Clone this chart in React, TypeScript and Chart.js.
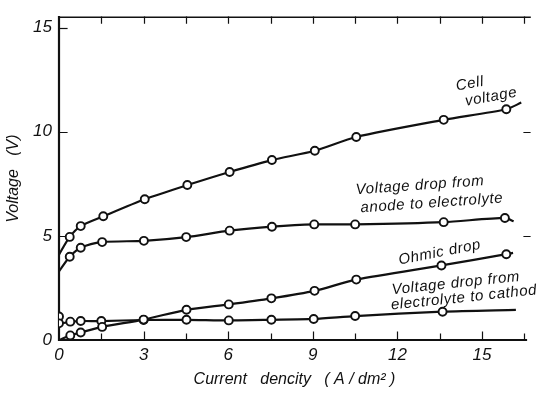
import React, { useEffect, useRef } from "react";
import { Chart, registerables } from "chart.js";

Chart.register(...registerables);

// Measured points (current density A/dm², voltage V)
const cellX = [0.38, 0.77, 1.57, 3.04, 4.55, 6.05, 7.55, 9.07, 10.54, 13.64, 15.86];
const cellY = [4.95, 5.47, 5.94, 6.76, 7.44, 8.07, 8.64, 9.09, 9.75, 10.57, 11.08];
const cellStart = { x: 0, y: 4.1 };
const cellEnd = { x: 16.39, y: 11.4 };

const anodeX = [0.38, 0.77, 1.53, 3.01, 4.51, 6.05, 7.55, 9.05, 10.5, 13.64, 15.81];
const anodeY = [4.0, 4.43, 4.7, 4.76, 4.94, 5.25, 5.44, 5.55, 5.55, 5.66, 5.86];
const anodeStart = { x: 0, y: 3.3 };
const anodeEnd = { x: 16.12, y: 5.7 };

const ohmicX = [0.4, 0.77, 1.53, 3.0, 4.52, 6.02, 7.53, 9.06, 10.54, 13.56, 15.86];
const ohmicY = [0.22, 0.36, 0.63, 0.98, 1.45, 1.71, 2.0, 2.36, 2.9, 3.58, 4.12];
const ohmicStart = { x: 0, y: 0 };
const ohmicEnd = { x: 16.1, y: 4.18 };

const cathodeX = [0, 0, 0.4, 0.77, 1.5, 3.0, 4.52, 6.02, 7.53, 9.03, 10.5, 13.6];
const cathodeY = [1.13, 0.8, 0.88, 0.91, 0.91, 0.96, 0.97, 0.94, 0.97, 1.01, 1.15, 1.36];
const cathodeEnd = { x: 16.2, y: 1.45 };

const yTickValues = [0, 5, 10, 15];
const xLabelStep = 3;

const curveLabels = [
  { text: "Cell", x: 14.57, y: 12.3, rot: -10 },
  { text: "voltage", x: 15.32, y: 11.67, rot: -10 },
  { text: "Voltage drop from", x: 12.8, y: 7.42, rot: -4 },
  { text: "anode to electrolyte", x: 13.22, y: 6.57, rot: -4 },
  { text: "Ohmic drop", x: 13.5, y: 4.2, rot: -11 },
  { text: "Voltage drop from", x: 14.07, y: 2.72, rot: -6 },
  { text: "electrolyte to cathod", x: 14.36, y: 2.03, rot: -6 },
];

const FONT = "'Liberation Sans', Arial, sans-serif";

function series(
  xs: number[],
  ys: number[],
  start: { x: number; y: number } | null,
  end: { x: number; y: number } | null
) {
  const pts = xs.map((x, i) => ({ x, y: ys[i] }));
  const data = [...(start ? [start] : []), ...pts, ...(end ? [end] : [])];
  const first = start ? 1 : 0;
  const last = first + pts.length - 1;
  return {
    data,
    borderColor: "#111",
    borderWidth: 2.2,
    backgroundColor: "#fff",
    pointBorderColor: "#111",
    pointBackgroundColor: "#fff",
    pointBorderWidth: 1.9,
    pointRadius: (c: any) => (c.dataIndex >= first && c.dataIndex <= last ? 4 : 0),
    tension: 0.25,
    showLine: true,
    fill: false,
  };
}

const framePlugin = {
  id: "frame",
  beforeDatasetsDraw(chart: any) {
    const { ctx, chartArea: a, scales } = chart;
    const xs = scales.x;
    const ys = scales.y;
    ctx.save();
    ctx.strokeStyle = "#111";
    ctx.lineCap = "square";
    ctx.lineWidth = 2.2;
    ctx.beginPath();
    ctx.moveTo(a.left, a.top);
    ctx.lineTo(a.left, a.bottom);
    ctx.lineTo(a.right - 4, a.bottom);
    ctx.stroke();
    ctx.lineWidth = 1.6;
    ctx.beginPath();
    ctx.moveTo(a.left, a.top);
    ctx.lineTo(a.right, a.top);
    ctx.stroke();
    ctx.lineWidth = 1.2;
    for (let v = 1.5; v <= xs.max; v += 1.5) {
      const px = Math.round(xs.getPixelForValue(v)) + 0.5;
      const len = Math.abs(v % 3) < 1e-6 ? 8 : 6;
      ctx.beginPath();
      ctx.moveTo(px, a.bottom);
      ctx.lineTo(px, a.bottom - len);
      ctx.moveTo(px, a.top);
      ctx.lineTo(px, a.top + 6);
      ctx.stroke();
    }
    for (const v of yTickValues) {
      if (v === 0) continue;
      const py = Math.round(ys.getPixelForValue(v)) + 0.5;
      ctx.beginPath();
      ctx.moveTo(a.left, py);
      ctx.lineTo(a.left + 8, py);
      if (v < 15) {
        ctx.moveTo(a.right, py);
        ctx.lineTo(a.right - 6, py);
      }
      ctx.stroke();
    }
    ctx.restore();
  },
  afterDatasetsDraw(chart: any) {
    const { ctx, scales } = chart;
    ctx.save();
    ctx.fillStyle = "#111";
    ctx.font = `italic 15px ${FONT}`;
    (ctx as any).letterSpacing = "0.6px";
    ctx.textAlign = "center";
    ctx.textBaseline = "middle";
    for (const l of curveLabels) {
      const px = scales.x.getPixelForValue(l.x);
      const py = scales.y.getPixelForValue(l.y);
      ctx.save();
      ctx.translate(px, py);
      ctx.rotate((l.rot * Math.PI) / 180);
      ctx.fillText(l.text, 0, 0);
      ctx.restore();
    }
    ctx.restore();
  },
};

export default function App() {
  const ref = useRef<HTMLCanvasElement | null>(null);
  useEffect(() => {
    if (!ref.current) return;
    const chart = new Chart(ref.current, {
      type: "scatter",
      data: {
        datasets: [
          series(cellX, cellY, cellStart, cellEnd),
          series(anodeX, anodeY, anodeStart, anodeEnd),
          series(ohmicX, ohmicY, ohmicStart, ohmicEnd),
          series(cathodeX, cathodeY, null, cathodeEnd),
        ] as any,
      },
      options: {
        responsive: false,
        animation: false,
        layout: { padding: { top: 12, right: 7, left: 0, bottom: 0 } },
        plugins: { legend: { display: false }, tooltip: { enabled: false } },
        scales: {
          x: {
            type: "linear",
            min: 0,
            max: 16.7,
            grid: { display: false, drawTicks: false },
            border: { display: false },
            afterFit: (s: any) => {
              s.height = 53;
            },
            ticks: {
              stepSize: 1.5,
              includeBounds: false,
              autoSkip: false,
              maxRotation: 0,
              padding: 5,
              color: "#111",
              font: { family: FONT, size: 17, style: "italic" },
              callback: (v: any) => (Math.abs(Number(v) % xLabelStep) < 1e-6 ? String(v) : ""),
            },
            title: {
              display: true,
              text: "Current   dencity   ( A / dm² )",
              color: "#111",
              font: { family: FONT, size: 16, style: "italic" },
              padding: { top: 0, bottom: 4 },
            },
          },
          y: {
            type: "linear",
            min: 0,
            max: 15.5,
            grid: { display: false, drawTicks: false },
            border: { display: false },
            afterFit: (s: any) => {
              s.width = 59;
            },
            afterBuildTicks: (s: any) => {
              s.ticks = yTickValues.map((v) => ({ value: v }));
            },
            ticks: {
              padding: 7,
              color: "#111",
              font: { family: FONT, size: 17, style: "italic" },
            },
            title: {
              display: true,
              text: "Voltage   (V)",
              color: "#111",
              font: { family: FONT, size: 16, style: "italic" },
              padding: { top: 4, bottom: 0 },
            },
          },
        },
      },
      plugins: [framePlugin],
    });
    return () => chart.destroy();
  }, []);
  return (
    <div style={{ position: "fixed", left: 0, top: 0, width: 537, height: 393, background: "#fff" }}>
      <canvas ref={ref} width={537} height={393} />
    </div>
  );
}
